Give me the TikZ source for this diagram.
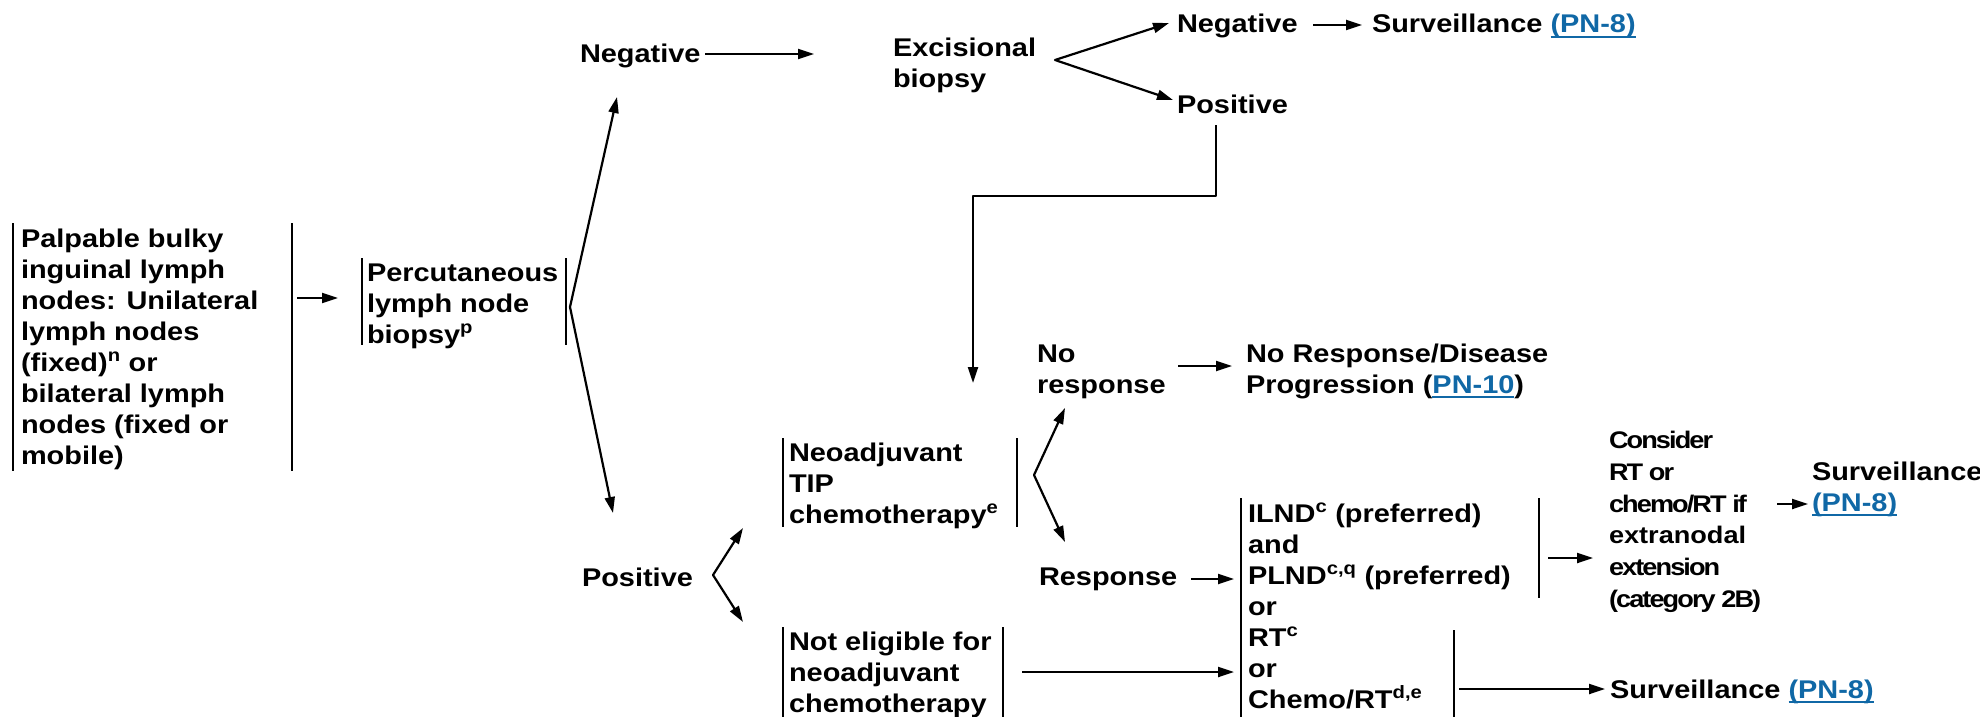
\documentclass[tikz,border=0pt]{standalone}
\usepackage{fontspec}
\setmainfont{Liberation Sans}[FakeStretch=1.13]
\newfontfamily\condfont{Liberation Sans}[FakeStretch=1.13, LetterSpace=-8]
\usetikzlibrary{arrows.meta}
\definecolor{linkblue}{RGB}{16,104,166}
\newlength\ulw
\newcommand{\lnk}[1]{\settowidth{\ulw}{#1}\textcolor{linkblue}{\rlap{\rule[-5pt]{\ulw}{2pt}}#1}}
\newcommand{\cnd}{\condfont\bfseries\fontsize{24}{31.8}\selectfont}
\tikzset{
  every node/.style={inner sep=0pt, outer sep=0pt},
  txt/.style={anchor=north west, align=left, font=\bfseries\fontsize{25.6}{31}\selectfont},
  bar/.style={line width=2.3pt},
  ln/.style={line width=2.2pt, line join=round},
  arr/.style={ln, -{Triangle[length=16pt,width=10pt]}},
  darr/.style={ln, {Triangle[length=16pt,width=10pt]}-{Triangle[length=16pt,width=10pt]}},
}
\begin{document}
\begin{tikzpicture}[x=1pt,y=-1pt]
\useasboundingbox (0,0) rectangle (1980,717);
% ---------- text nodes ----------
\node[txt] (palp) at (21,225.3) {\strut Palpable bulky\\inguinal lymph\\nodes: Unilateral\\lymph nodes\\(fixed)\textsuperscript{n} or\\bilateral lymph\\nodes (fixed or\\mobile)};
\node[txt] (perc) at (367,259.3) {\strut Percutaneous\\lymph node\\biopsy\textsuperscript{p}};
\node[txt] (neg1) at (580,41.3) {\strut Negative};
\node[txt] (exc) at (893,34.3) {\strut Excisional\\biopsy};
\node[txt] (neg2) at (1177,11.3) {\strut Negative};
\node[txt] (surv1) at (1372,11.3) {\strut Surveillance \lnk{(PN-8)}};
\node[txt] (pos1) at (1177,91.3) {\strut Positive};
\node[txt] (noresp) at (1037,340.3) {\strut No\\response};
\node[txt] (nrdp) at (1246,340.3) {\strut No Response/Disease\\Progression (\lnk{PN-10})};
\node[txt] (neo) at (789,439.3) {\strut Neoadjuvant\\TIP\\chemotherapy\textsuperscript{e}};
\node[txt] (resp) at (1039,563.3) {\strut Response};
\node[txt] (pos2) at (582,564.3) {\strut Positive};
\node[txt] (note) at (789,628.3) {\strut Not eligible for\\neoadjuvant\\chemotherapy};
\node[txt] (ilnd) at (1248,500.3) {\strut ILND\textsuperscript{c} (preferred)\\and\\PLND\textsuperscript{c,q} (preferred)\\or\\RT\textsuperscript{c}\\or\\Chemo/RT\textsuperscript{d,e}};
\node[txt, font=\bfseries\fontsize{24}{31.8}\selectfont] (cons) at (1609,426.3) {\strut{\cnd Consider}\\{\cnd RT or}\\{\cnd chemo/RT if}\\extranodal\\{\cnd extension}\\{\cnd (category 2B)}};
\node[txt] (surv2) at (1812,458.3) {\strut Surveillance\\\lnk{(PN-8)}};
\node[txt] (surv3) at (1610,676.3) {\strut Surveillance \lnk{(PN-8)}};
% ---------- bars ----------
\draw[bar] (13,223) -- (13,471) (292,223) -- (292,471);
\draw[bar] (362,258) -- (362,345) (566,258) -- (566,345);
\draw[bar] (783,438) -- (783,527) (1017,438) -- (1017,527);
\draw[bar] (783,627) -- (783,720) (1003,627) -- (1003,720);
\draw[bar] (1241,498) -- (1241,720) (1539,498) -- (1539,598) (1454,630) -- (1454,720);
% ---------- connector coordinates ----------
\coordinate (a1s) at (297,298); \coordinate (a1e) at (338,298);
\coordinate (pv) at (570,307); \coordinate (pvu) at (617,97); \coordinate (pvd) at (613,513);
\coordinate (n1s) at (705,54); \coordinate (n1e) at (814,54);
\coordinate (ev) at (1055,60); \coordinate (evu) at (1169,23); \coordinate (evd) at (1173,100);
\coordinate (n2s) at (1313,25); \coordinate (n2e) at (1362,25);
\coordinate (p1a) at (1216,125); \coordinate (p1b) at (1216,196); \coordinate (p1c) at (973,196); \coordinate (p1d) at (973,383);
\coordinate (nrs) at (1178,366); \coordinate (nre) at (1232,366);
\coordinate (nv) at (1034,475); \coordinate (nvu) at (1065,408); \coordinate (nvd) at (1065,542);
\coordinate (rs) at (1191,579); \coordinate (re) at (1234,579);
\coordinate (qv) at (713,575); \coordinate (qvu) at (743,528); \coordinate (qvd) at (743,622);
\coordinate (nes) at (1022,672); \coordinate (nee) at (1234,672);
\coordinate (ius) at (1548,558); \coordinate (iue) at (1593,558);
\coordinate (ils) at (1459,689); \coordinate (ile) at (1605,689);
\coordinate (cs) at (1777,504); \coordinate (ce) at (1808,504);
% ---------- connectors ----------
\draw[arr] (a1s) -- (a1e);
\draw[darr] (pvu) -- (pv) -- (pvd);
\draw[arr] (n1s) -- (n1e);
\draw[darr] (evu) -- (ev) -- (evd);
\draw[arr] (n2s) -- (n2e);
\draw[arr] (p1a) -- (p1b) -- (p1c) -- (p1d);
\draw[arr] (nrs) -- (nre);
\draw[darr] (nvu) -- (nv) -- (nvd);
\draw[arr] (rs) -- (re);
\draw[darr] (qvu) -- (qv) -- (qvd);
\draw[arr] (nes) -- (nee);
\draw[arr] (ius) -- (iue);
\draw[arr] (ils) -- (ile);
\draw[arr] (cs) -- (ce);
\end{tikzpicture}
\end{document}
